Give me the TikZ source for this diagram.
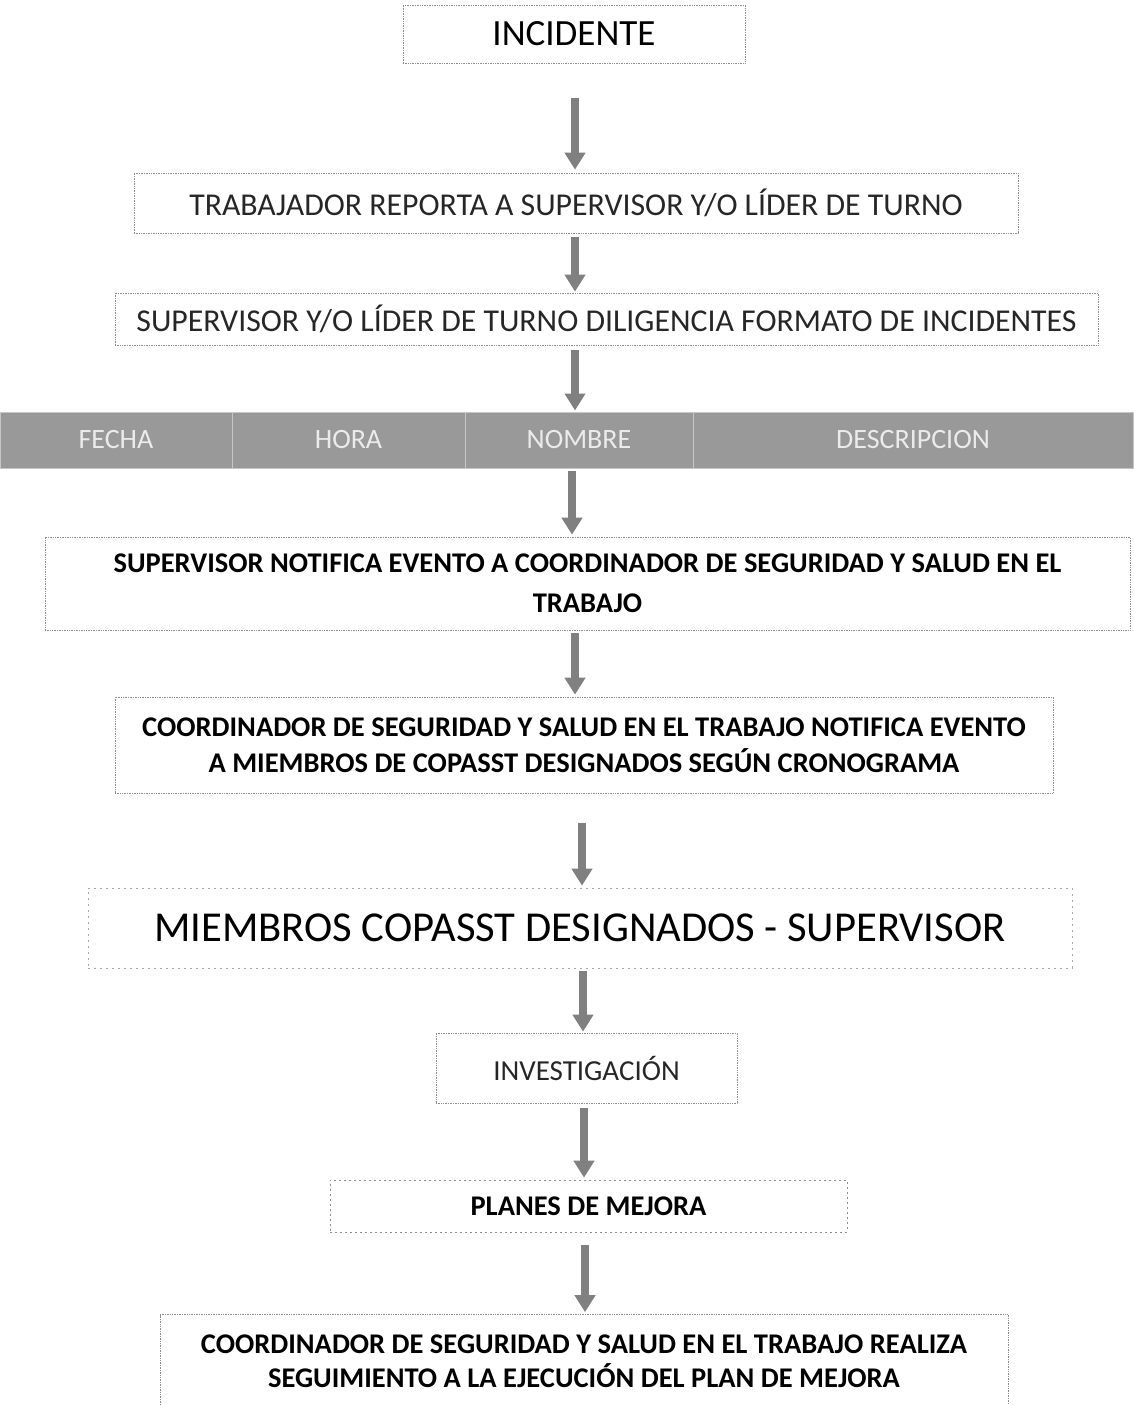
\documentclass[tikz,border=0pt]{standalone}
\usepackage{fontspec}
\setmainfont{Carlito}
\usetikzlibrary{arrows.meta,calc}

\begin{document}
\begin{tikzpicture}[x=1pt,y=-1pt,line join=round,
  caja/.style={draw=black!45,densely dotted,line width=0.7pt,inner sep=0pt,align=center},
  celda/.style={draw=black!22,line width=1pt,fill=black!40,text=black!8,inner sep=0pt,minimum height=56pt,font=\fontsize{28}{34}\selectfont},
  flecha/.style={draw=black!50,line width=8pt,line cap=butt,-{Triangle[width=20pt,length=17pt]}}]
\useasboundingbox (0,0) rectangle (1133,1405);
\node[caja,minimum width=342pt,minimum height=58pt,font=\fontsize{37}{44}\selectfont] (inc) at (574,34) {INCIDENTE};
\node[caja,text=black!85,minimum width=884pt,minimum height=60pt,font=\fontsize{31.8}{40}\selectfont] (trab) at (576,203) {TRABAJADOR REPORTA A SUPERVISOR Y/O LÍDER DE TURNO};
\node[caja,text=black!85,minimum width=983pt,minimum height=52pt,font=\fontsize{31.8}{40}\selectfont] (dil) at (606.5,319) {SUPERVISOR Y/O LÍDER DE TURNO DILIGENCIA FORMATO DE INCIDENTES};
\foreach \n/\c/\w/\t in {fecha/116/232/FECHA,hora/348.5/233/HORA,nombre/579/228/NOMBRE,desc/913/440/DESCRIPCION}
  \node[celda,minimum width=\w pt] (\n) at (\c,440) {\t};
\node[caja,minimum width=1085pt,minimum height=93pt,font=\fontsize{28.5}{40}\selectfont\bfseries] (noti) at (587.5,583.5) {SUPERVISOR NOTIFICA EVENTO A COORDINADOR DE SEGURIDAD Y SALUD EN EL\\TRABAJO};
\node[caja,minimum width=938pt,minimum height=96pt,font=\fontsize{28.5}{36}\selectfont\bfseries] (coord) at (584,745) {COORDINADOR DE SEGURIDAD Y SALUD EN EL TRABAJO NOTIFICA EVENTO\\A MIEMBROS DE COPASST DESIGNADOS SEGÚN CRONOGRAMA};
\node[caja,dash pattern=on 2pt off 4pt,draw=black!35,minimum width=984pt,minimum height=80pt,font=\fontsize{42.6}{50}\selectfont] (miem) at (580,928) {MIEMBROS COPASST DESIGNADOS - SUPERVISOR};
\node[caja,text=black!85,minimum width=301pt,minimum height=70pt,font=\fontsize{29}{36}\selectfont] (inv) at (586.5,1068) {INVESTIGACIÓN};
\node[caja,dash pattern=on 2pt off 3pt,minimum width=517pt,minimum height=52pt,font=\fontsize{28.5}{34}\selectfont\bfseries] (plan) at (588.5,1206) {PLANES DE MEJORA};
\node[caja,minimum width=848pt,minimum height=93pt,font=\fontsize{28.5}{34}\selectfont\bfseries] (fin) at (584,1361) {COORDINADOR DE SEGURIDAD Y SALUD EN EL TRABAJO REALIZA\\SEGUIMIENTO A LA EJECUCIÓN DEL PLAN DE MEJORA};
\foreach \a/\b/\x/\s/\e in {inc/trab/575/35/3,trab/dil/575/4/1,dil/nombre/575/5/1,nombre/noti/572/2/2,noti/coord/575/3/2,coord/miem/582/30/2,miem/inv/583/3/1,inv/plan/584/5/2,plan/fin/585/13/2}
  \draw[flecha,shorten <=\s pt,shorten >=\e pt] (\a.south -| \x,0) -- (\b.north -| \x,0);
\end{tikzpicture}
\end{document}
